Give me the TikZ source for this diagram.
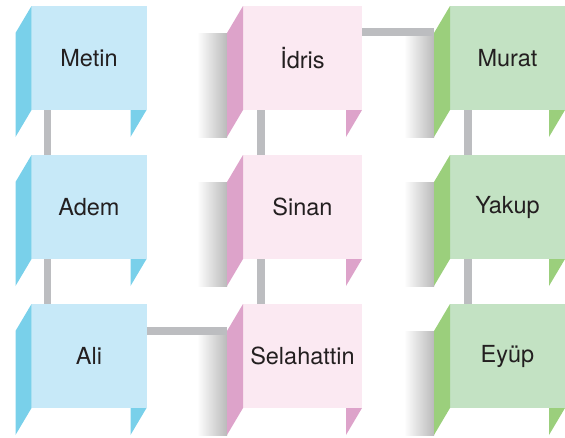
\documentclass[tikz,border=0pt]{standalone}
\usepackage{fontspec}
\setmainfont{TeX Gyre Heros}
\usetikzlibrary{positioning}
\definecolor{bluefront}{HTML}{C7E9F8}
\definecolor{blueside}{HTML}{79D0EA}
\definecolor{pinkfront}{HTML}{FBE9F2}
\definecolor{pinkside}{HTML}{DDA3CA}
\definecolor{greenfront}{HTML}{C3E2C3}
\definecolor{greenside}{HTML}{9BCF7C}
\definecolor{linkgray}{HTML}{BCBDC0}
\definecolor{textgray}{HTML}{231F20}

\begin{document}
\begin{tikzpicture}[x=1pt,y=1pt,node distance=45pt]
\tikzstyle{card}=[rectangle,inner sep=0pt,outer sep=0pt,
minimum width=115pt,minimum height=104pt,
text=textgray,font=\fontsize{23.5}{27}\selectfont]
\tikzstyle{link}=[draw=linkgray,line width=7.5pt]
\useasboundingbox (0,0) rectangle (565,-437);

\node[card,fill=bluefront] at (89,-58) (metin) {Metin};
\node[card,fill=bluefront,below=of metin] (adem) {Adem};
\node[card,fill=bluefront,below=of adem] (ali) {Ali};
\node[card,fill=pinkfront,minimum width=119pt,right=96.5pt of metin] (idris) {İdris};
\node[card,fill=pinkfront,minimum width=119pt,below=of idris] (sinan) {Sinan};
\node[card,fill=pinkfront,minimum width=119pt,below=of sinan] (selahattin) {Selahattin};
\node[card,fill=greenfront,right=88pt of idris] (murat) {Murat};
\node[card,fill=greenfront,below=of murat] (yakup) {Yakup};
\node[card,fill=greenfront,below=of yakup] (eyup) {Eyüp};

% shadows behind the pink and green cards
\foreach \n in {idris,sinan,selahattin,murat,yakup,eyup}
  \shade[left color=white,right color=black!27]
    ([xshift=-46pt,yshift=-27pt]\n.north west) rectangle ([xshift=-16pt,yshift=-27pt]\n.south west);

\path[link] ([xshift=16pt]metin.south west) -- ([xshift=16pt]adem.north west);
\path[link] ([xshift=16pt]adem.south west) -- ([xshift=16pt]ali.north west);
\path[link] ([xshift=18pt]idris.south west) -- ([xshift=18pt]sinan.north west);
\path[link] ([xshift=18pt]sinan.south west) -- ([xshift=18pt]selahattin.north west);
\path[link] ([xshift=18pt]murat.south west) -- ([xshift=18pt]yakup.north west);
\path[link] ([xshift=18pt]yakup.south west) -- ([xshift=18pt]eyup.north west);
\path[link] ([yshift=-26pt]idris.north east) -- ([xshift=-16pt,yshift=-26pt]murat.north west);
\path[link] ([yshift=-27pt]ali.north east) -- ([xshift=-16pt,yshift=-27pt]selahattin.north west);

% side and back flaps
\foreach \n/\c in {metin/blueside,adem/blueside,ali/blueside,
  idris/pinkside,sinan/pinkside,selahattin/pinkside,
  murat/greenside,yakup/greenside,eyup/greenside}{
  \fill[\c] (\n.north west) -- ++(-16,-27) -- ++(0,-104) -- (\n.south west) -- cycle;
  \fill[\c] (\n.south east) -- ++(-16,0) -- ++(0,-27) -- cycle;
}
\end{tikzpicture}
\end{document}
